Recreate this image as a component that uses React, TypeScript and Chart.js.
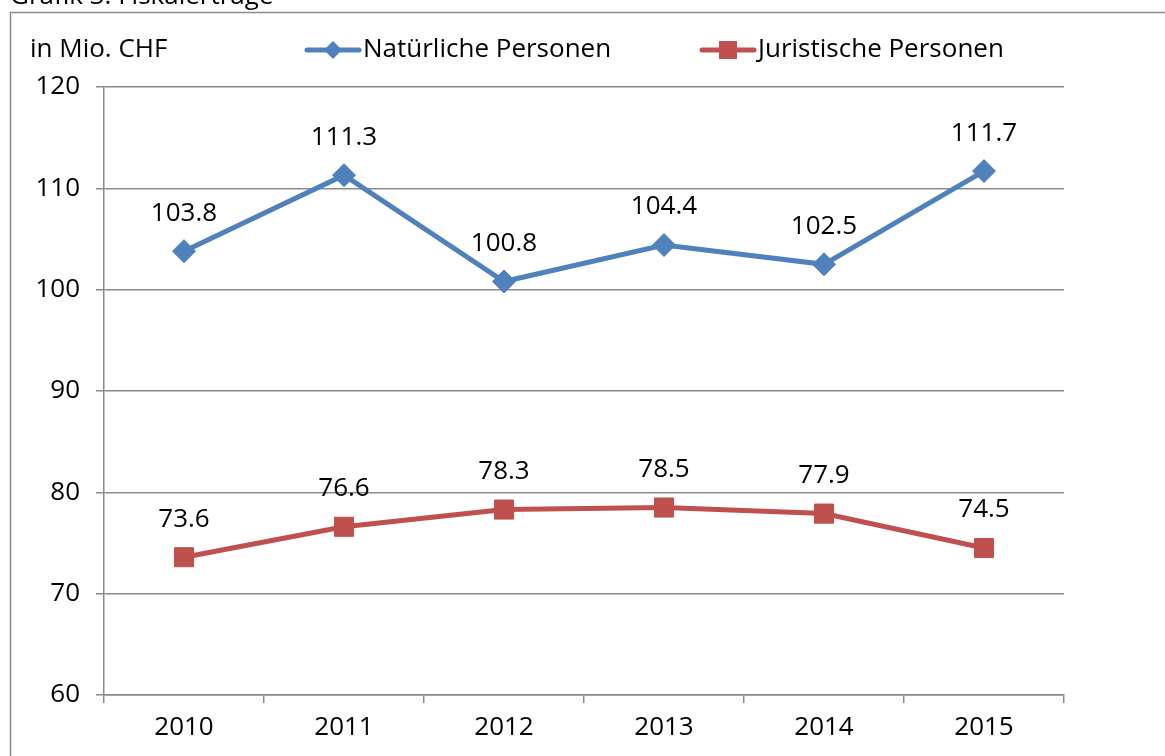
import React, { useEffect, useRef } from "react";
import { Chart, registerables } from "chart.js";

Chart.register(...registerables);

const title = "Grafik 3: Fiskalerträge";
const unitLabel = "in Mio. CHF";
const years = ["2010", "2011", "2012", "2013", "2014", "2015"];
const seriesNames = ["Natürliche Personen", "Juristische Personen"];
const natuerliche = [103.8, 111.3, 100.8, 104.4, 102.5, 111.7];
const juristische = [73.6, 76.6, 78.3, 78.5, 77.9, 74.5];
const yMin = 60;
const yMax = 120;
const yStep = 10;

const FONT = "'Open Sans', 'Noto Sans', sans-serif";
const FS = 26;
const BLUE = "#4F81BD";
const RED = "#C0504D";
const GRID = "#8a8a8a";

const decorPlugin = {
  id: "decor",
  beforeDraw(chart: any) {
    const ctx = chart.ctx;
    ctx.save();
    ctx.fillStyle = "#fff";
    ctx.fillRect(0, 0, chart.width, chart.height);
    // frame
    ctx.strokeStyle = GRID;
    ctx.lineWidth = 1.5;
    ctx.beginPath();
    ctx.moveTo(10.5, chart.height + 5);
    ctx.lineTo(10.5, 12.5);
    ctx.lineTo(chart.width + 5, 12.5);
    ctx.stroke();
    // title (cut at top)
    ctx.fillStyle = "#000";
    ctx.font = `${FS}px ${FONT}`;
    ctx.textBaseline = "alphabetic";
    ctx.textAlign = "left";
    ctx.fillText(title, 10, 4);
    // unit label
    ctx.textBaseline = "middle";
    ctx.fillText(unitLabel, 30, 50);
    // legend
    const starts = [305, 700];
    chart.data.datasets.forEach((ds: any, i: number) => {
      const x0 = starts[i];
      const y = 50;
      ctx.strokeStyle = ds.borderColor;
      ctx.lineWidth = 5;
      ctx.lineCap = "round";
      ctx.beginPath();
      ctx.moveTo(x0 + 2, y);
      ctx.lineTo(x0 + 54, y);
      ctx.stroke();
      ctx.fillStyle = ds.borderColor;
      const cx = x0 + 28;
      if (ds.pointStyle === "rectRot") {
        ctx.beginPath();
        ctx.moveTo(cx, y - 9);
        ctx.lineTo(cx + 9, y);
        ctx.lineTo(cx, y + 9);
        ctx.lineTo(cx - 9, y);
        ctx.closePath();
        ctx.fill();
      } else {
        ctx.fillRect(cx - 9, y - 9, 18, 18);
      }
      ctx.fillStyle = "#000";
      ctx.textBaseline = "middle";
      ctx.fillText(ds.label, x0 + 58, y);
    });
    ctx.restore();
  },
  afterDatasetsDraw(chart: any) {
    const ctx = chart.ctx;
    ctx.save();
    ctx.fillStyle = "#000";
    ctx.font = `${FS}px ${FONT}`;
    ctx.textAlign = "center";
    ctx.textBaseline = "middle";
    chart.data.datasets.forEach((ds: any, i: number) => {
      const meta = chart.getDatasetMeta(i);
      meta.data.forEach((pt: any, j: number) => {
        ctx.fillText(ds.data[j].toFixed(1), pt.x, pt.y - 38);
      });
    });
    ctx.restore();
  },
};

export default function App() {
  const ref = useRef<HTMLCanvasElement>(null);
  useEffect(() => {
    document.body.style.margin = "0";
    const chart = new Chart(ref.current!, {
      type: "line",
      data: {
        labels: years,
        datasets: [
          {
            label: seriesNames[0],
            data: natuerliche,
            borderColor: BLUE,
            backgroundColor: BLUE,
            borderWidth: 5,
            pointStyle: "rectRot",
            pointRadius: 11.5,
            pointBorderWidth: 1,
            tension: 0,
          },
          {
            label: seriesNames[1],
            data: juristische,
            borderColor: RED,
            backgroundColor: RED,
            borderWidth: 5,
            pointStyle: "rect",
            pointRadius: 13.5,
            pointBorderWidth: 1,
            tension: 0,
          },
        ],
      },
      options: {
        animation: false,
        responsive: false,
        maintainAspectRatio: false,
        layout: { padding: { left: 0, right: 101, top: 87, bottom: 0 } },
        plugins: { legend: { display: false }, tooltip: { enabled: false } },
        scales: {
          x: {
            offset: true,
            grid: {
              offset: true,
              drawOnChartArea: false,
              drawTicks: true,
              tickLength: 8,
              color: GRID,
              lineWidth: 1.5,
            },
            border: { color: GRID, width: 1.5 },
            ticks: { color: "#000", font: { family: FONT, size: FS }, padding: 9 },
            afterFit(scale: any) {
              scale.height = 61;
            },
          },
          y: {
            min: yMin,
            max: yMax,
            grid: { color: GRID, lineWidth: 1.5, tickLength: 8 },
            border: { color: GRID, width: 1.5 },
            ticks: {
              stepSize: yStep,
              color: "#000",
              font: { family: FONT, size: FS },
              padding: 16,
            },
            afterFit(scale: any) {
              scale.width = 104;
            },
          },
        },
      },
      plugins: [decorPlugin],
    });
    return () => chart.destroy();
  }, []);
  return (
    <div style={{ position: "absolute", left: 0, top: 0, width: 1165, height: 756 }}>
      <canvas ref={ref} width={1165} height={756} style={{ width: 1165, height: 756, display: "block" }} />
    </div>
  );
}
